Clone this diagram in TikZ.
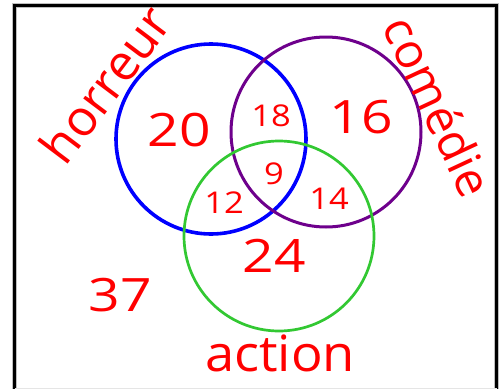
\documentclass[tikz,border=0pt]{standalone}
\usepackage{fontspec}
\setmainfont{Open Sans}
\definecolor{vblue}{RGB}{0,0,255}
\definecolor{vpurple}{RGB}{110,0,140}
\definecolor{vgreen}{RGB}{50,200,50}
\definecolor{vred}{RGB}{255,0,0}
\begin{document}
\begin{tikzpicture}[x=1pt,y=-1pt,
  lab/.style={text=vred,inner sep=0pt,font=\fontsize{50}{54}\selectfont},
  big/.style={text=vred,inner sep=0pt,font=\fontsize{46}{50}\selectfont,xscale=1.2},
  small/.style={text=vred,inner sep=0pt,font=\fontsize{30}{34}\selectfont,xscale=1.15},
  setc/.style={circle,minimum size=190pt,inner sep=0pt}]
\useasboundingbox (0,0) rectangle (499,389);
\fill[white] (0,0) rectangle (499,389);
% frame
\draw[line width=5pt,black!25] (14.5,389) -- (14.5,5.5) -- (496.5,5.5) -- (496.5,389);
\draw[line width=3pt,black] (14.5,389) -- (14.5,5.5) -- (496.5,5.5) -- (496.5,389);
\draw[line width=1pt,black!10] (14.5,388) -- (496.5,388);
% circles
\node[setc,draw=vblue,line width=3.6pt] (H) at (211,139) {};
\node[setc,draw=vpurple,line width=3pt] (C) at (326,132) {};
\node[setc,draw=vgreen,line width=2.7pt] (A) at (279,236) {};
% region numbers
\node[big] (n20) at (179,130) {20};
\node[big] (n16) at (361,117) {16};
\node[small] (n18) at (271,116) {18};
\node[small] (n9) at (274,174) {9};
\node[small] (n12) at (224,203) {12};
\node[small] (n14) at (329,199) {14};
\node[big] (n24) at (274,256) {24};
\node[big] (n37) at (120,295) {37};
% labels
\node[lab,rotate=53] (lh) at (105,84) {horreur};
\node[lab,rotate=-65,font=\fontsize{48}{52}\selectfont] (lc) at (439,106) {comédie};
\node[lab,xscale=1.05] (la) at (280,353) {action};
\end{tikzpicture}
\end{document}
